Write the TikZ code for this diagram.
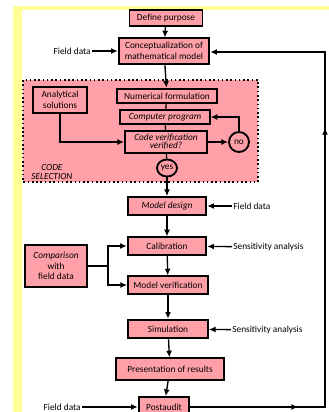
\documentclass[tikz,border=0pt]{standalone}
\usepackage{fontspec}
\setmainfont{Carlito}
\usepackage{color}
\definecolor{mypink}{RGB}{255,160,168}
\definecolor{myyellow}{RGB}{255,255,150}
\usepackage{tikz}
\usetikzlibrary{calc,arrows.meta,positioning}
\tikzstyle{stage}=[draw,fill=mypink,line width=1.4pt,inner sep=1pt,font=\fontsize{7}{8}\selectfont,align=center]
\tikzstyle{answer}=[draw,fill=mypink,line width=1.4pt,ellipse,inner sep=0pt,font=\fontsize{7}{8}\selectfont]
\tikzstyle{note}=[inner sep=0.5pt,font=\fontsize{7}{8}\selectfont]
\usetikzlibrary{shapes.geometric}

\begin{document}
\begin{tikzpicture}[x=0.75pt,y=-0.75pt,line width=1pt,>={Latex[length=5pt,width=4.5pt]}]
\clip (0,0) rectangle (329,412);
\fill[white] (0,0) rectangle (329,412);
\fill[myyellow] (13,6) rectangle (329,10);
\fill[myyellow] (13,6) rectangle (22,412);
% code selection block
\draw[fill=mypink,dotted,line width=1.2pt] (23,80) rectangle (258,182);
\draw (52,172) node [note, align=center] (codesel) {\textit{CODE}\\[-1pt]\textit{SELECTION}};
% main chain
\draw (166,18) node [stage, minimum width=54.75pt, minimum height=12pt] (define) {Define purpose};
\draw (164,51) node [stage, minimum width=68pt, minimum height=19pt] (concept) {Conceptualization of\\mathematical model};
\draw (60,100) node [stage, minimum width=41pt, minimum height=19.5pt] (analytic) {Analytical\\solutions};
\draw (167,96) node [stage, minimum width=75pt, minimum height=11pt] (numform) {Numerical formulation};
\draw (165,117) node [stage, minimum width=67pt, minimum height=11pt] (program) {\textit{Computer program}};
\draw (166,142) node [stage, minimum width=61.5pt, minimum height=16pt] (codever) {\textit{Code verification}\\[-2pt]\textit{verified?}};
\draw (239,142) node [answer, circle, minimum size=15pt] (no) {no};
\draw (167,168) node [answer, minimum width=15pt, minimum height=12.75pt] (yes) {yes};
\draw (167,206) node [stage, minimum width=59pt, minimum height=13.5pt] (design) {\textit{Model design}};
\draw (167,246) node [stage, minimum width=59pt, minimum height=13pt] (calib) {Calibration};
\draw (56,266) node [stage, minimum width=46pt, minimum height=31pt] (compare) {\textit{Comparison}\\with\\field data};
\draw (168,285) node [stage, minimum width=60pt, minimum height=13pt] (modver) {Model verification};
\draw (168,329) node [stage, minimum width=60pt, minimum height=14pt] (simul) {Simulation};
\draw (170,369) node [stage, minimum width=81pt, minimum height=16pt] (present) {Presentation of results};
\draw (164,407) node [stage, minimum width=38pt, minimum height=15pt] (postaudit) {Postaudit};
% side notes
\draw (92,51) node [note, anchor=east] (fd1) {Field data};
\draw (232,206) node [note, anchor=west] (fd2) {Field data};
\draw (232,247) node [note, anchor=west] (sa1) {Sensitivity analysis};
\draw (231,330) node [note, anchor=west] (sa2) {Sensitivity analysis};
\draw (82,407) node [note, anchor=east] (fd3) {Field data};
% free ends
\coordinate (bend1) at (108,266);
\coordinate (corner1) at (325,407);
\coordinate (corner2) at (325,52);
\coordinate (mid1) at (298,407);
\coordinate (mid2) at (325,128);
% connectors
\draw[->] (define) -- (concept);
\draw[->] (fd1) -- (concept);
\draw[->] (concept) -- (numform);
\draw (numform) -- (program);
\draw (program) -- (codever);
\draw[->] (analytic.south) |- (codever.west);
\draw[->] (codever) -- (no);
\draw[->] (no.north) |- (program.east);
\draw (codever) -- (yes);
\draw[->] (yes) -- (design);
\draw[->] (fd2) -- (design);
\draw[->] (design) -- (calib);
\draw[->] (sa1) -- (calib);
\draw[->] (calib) -- (modver);
\draw (compare.east) -- (bend1);
\draw[->] (bend1) |- (calib.west);
\draw[->] (bend1) |- (modver.west);
\draw[->] (modver) -- (simul);
\draw[->] (sa2) -- (simul);
\draw[->] (simul) -- (present);
\draw[->] (present) -- (postaudit);
\draw[->] (fd3) -- (postaudit);
\draw[->] (postaudit.east) -- (corner1) -- (corner2) -- (concept.east |- corner2);
\draw[->] (postaudit.east) -- (mid1);
\draw[->] (corner1) -- (mid2);
\end{tikzpicture}
\end{document}
